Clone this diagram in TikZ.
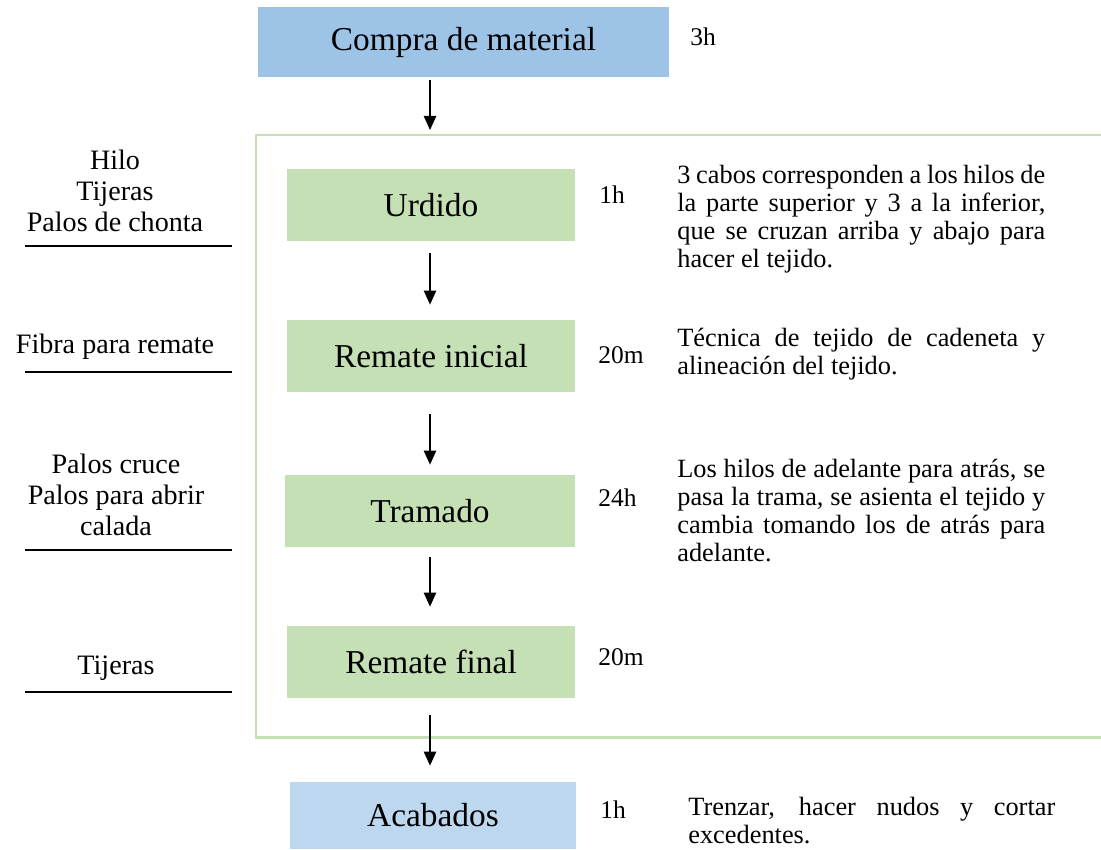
\documentclass[tikz,border=0pt]{standalone}
\usepackage{fontspec}
\setmainfont{Liberation Serif}
\usetikzlibrary{arrows.meta}
\definecolor{azul}{HTML}{9DC3E6}
\definecolor{azulclaro}{HTML}{BDD7EE}
\definecolor{verde}{HTML}{C5E0B4}
\hyphenpenalty=10000
\exhyphenpenalty=10000
\begin{document}
\begin{tikzpicture}[x=0.02cm,y=-0.02cm]
	\tikzset{
		paso/.style={fill=verde, minimum width=5.76cm, minimum height=1.44cm, inner sep=0pt, font=\fontsize{19}{22}\selectfont},
		tiempo/.style={anchor=west, inner sep=0pt, font=\fontsize{14.5}{16}\selectfont},
		material/.style={align=center, inner sep=0pt, font=\fontsize{16}{17.6}\selectfont},
		nota/.style={anchor=north west, inner sep=0pt, text width=7.36cm, align=justify, font=\fontsize{15}{15.9}\selectfont},
		flecha/.style={-{Triangle[length=8pt,width=7pt]}, line width=0.9pt},
		marco/.style={verde, line width=1.7pt}
	}
	\useasboundingbox (0,0) rectangle (1101,849);
	% fases
	\node[paso, fill=azul, minimum width=8.22cm, minimum height=1.4cm] (compra) at (463.5,42) {Compra de material};
	\node[paso] (urdido) at (431,205) {Urdido};
	\node[paso] (inicial) at (431,356) {Remate inicial};
	\node[paso, minimum width=5.8cm] (tramado) at (430,511) {Tramado};
	\node[paso] (final) at (431,662) {Remate final};
	\node[paso, fill=azulclaro, minimum width=5.72cm, minimum height=1.34cm] (acabados) at (433,815.5) {Acabados};
	% marco verde
	\coordinate (ftop) at (430,135);
	\draw[marco] (1105,135) -- (256,135) -- (256,737) -- (1105,737);
	% tiempos
	\node[tiempo] (t1) at (690,37) {3h};
	\node[tiempo] (t2) at (599,195) {1h};
	\node[tiempo] (t3) at (598,355) {20m};
	\node[tiempo] (t4) at (598,498) {24h};
	\node[tiempo] (t5) at (598,657) {20m};
	\node[tiempo] (t6) at (600,810) {1h};
	% materiales
	\node[material] (m1) at (115,191) {Hilo\\Tijeras\\Palos de chonta};
	\node[material] (m2) at (115,347) {Fibra para remate};
	\node[material] (m3) at (116,495) {Palos cruce\\Palos para abrir\\calada};
	\node[material] (m4) at (116,668) {Tijeras};
	\foreach \y in {246,372,550,692}
		\draw[line width=0.6pt] (25,\y) -- (232,\y);
	% notas
	\node[nota] (n1) at (677,165) {3 cabos corresponden a los hilos de la parte superior y 3 a la inferior, que se cruzan arriba y abajo para hacer el tejido.};
	\node[nota] (n2) at (677,328) {Técnica de tejido de cadeneta y alineación del tejido.};
	\node[nota] (n3) at (677,459) {Los hilos de adelante para atrás, se pasa la trama, se asienta el tejido y cambia tomando los de atrás para adelante.};
	\node[nota, text width=7.34cm] (n4) at (688,797) {Trenzar, hacer nudos y cortar excedentes.};
	% flechas
	\draw[flecha] (compra.south -| ftop) ++(0,3) -- ([yshift=0.1cm]ftop);
	\draw[flecha] ([yshift=-0.24cm]urdido.south -| ftop) -- ([yshift=0.3cm]inicial.north -| ftop);
	\draw[flecha] ([yshift=-0.44cm]inicial.south -| ftop) -- ([yshift=0.2cm]tramado.north -| ftop);
	\draw[flecha] ([yshift=-0.2cm]tramado.south -| ftop) -- ([yshift=0.38cm]final.north -| ftop);
	\draw[flecha] ([yshift=-0.34cm]final.south -| ftop) -- ([yshift=0.32cm]acabados.north -| ftop);
\end{tikzpicture}
\end{document}
